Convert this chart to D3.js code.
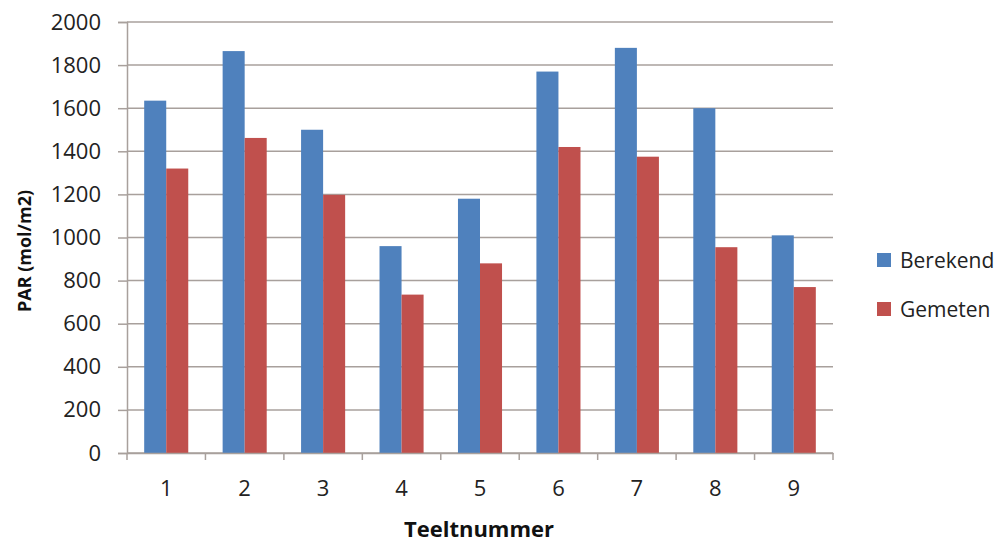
<!DOCTYPE html>
<html>
<head>
<meta charset="utf-8">
<script src="https://cdn.jsdelivr.net/npm/d3@7"></script>
<style>
  body { margin: 0; background: #fff; }
  svg { display: block; }
</style>
</head>
<body>
<svg></svg>
<script>
var categories = ["1", "2", "3", "4", "5", "6", "7", "8", "9"];
var seriesNames = ["Berekend", "Gemeten"];
var berekend = [1635, 1865, 1500, 960, 1180, 1770, 1880, 1600, 1010];
var gemeten = [1320, 1462, 1198, 735, 880, 1420, 1375, 955, 770];
var yTicks = [0, 200, 400, 600, 800, 1000, 1200, 1400, 1600, 1800, 2000];

var color = d3.scaleOrdinal().domain(seriesNames).range(["#4f81bd", "#c0504d"]);

var data = categories.map(function(c, i) {
    return { cat: c, values: [
        { name: "Berekend", value: berekend[i] },
        { name: "Gemeten", value: gemeten[i] }
    ] };
});

const svgWidth = 1005,
    svgHeight = 543;

var margin = { top: 22, right: 172, bottom: 90, left: 127 };
var width = svgWidth - margin.left - margin.right;
var height = svgHeight - margin.top - margin.bottom;

var font = "'Open Sans', 'DejaVu Sans', sans-serif";
var gridColor = "#a8a09c";

var svg = d3.select("svg")
    .attr("width", svgWidth)
    .attr("height", svgHeight);

var g = svg.append("g")
    .attr("transform", "translate(" + margin.left + "," + margin.top + ")");

var x = d3.scaleBand()
    .domain(categories)
    .range([0, width])
    .padding(0);

var x1 = d3.scaleBand()
    .domain(seriesNames)
    .range([0, x.bandwidth()])
    .paddingInner(0)
    .paddingOuter(0.78);

var y = d3.scaleLinear()
    .domain([0, 2000])
    .range([height, 0]);

// gridlines
g.append("g")
    .selectAll("line")
    .data(yTicks)
    .enter()
    .append("line")
    .attr("x1", 0)
    .attr("x2", width)
    .attr("y1", d => y(d))
    .attr("y2", d => y(d))
    .attr("stroke", gridColor)
    .attr("stroke-width", 1.5);

// bars
var groups = g.selectAll(".grp")
    .data(data)
    .enter()
    .append("g")
    .attr("class", "grp")
    .attr("transform", d => "translate(" + x(d.cat) + ",0)");

groups.selectAll("rect")
    .data(d => d.values)
    .enter()
    .append("rect")
    .attr("x", d => x1(d.name))
    .attr("width", x1.bandwidth())
    .attr("y", d => y(d.value))
    .attr("height", d => height - y(d.value))
    .style("fill", d => color(d.name));

// y axis
var yAxis = d3.axisLeft(y)
    .tickValues(yTicks)
    .tickFormat(d3.format("d"))
    .tickSize(9)
    .tickPadding(17);

g.append("g")
    .call(yAxis);

// x axis: ticks at category boundaries
var xAxis = d3.axisBottom(x)
    .tickSize(0)
    .tickPadding(27);

var xg = g.append("g")
    .attr("transform", "translate(0," + height + ")")
    .call(xAxis);

xg.selectAll(".bound")
    .data(d3.range(categories.length + 1))
    .enter()
    .append("line")
    .attr("class", "bound")
    .attr("x1", d => d * x.step())
    .attr("x2", d => d * x.step())
    .attr("y1", 0)
    .attr("y2", 7)
    .attr("stroke", gridColor)
    .attr("stroke-width", 1.5);

g.selectAll(".tick line")
    .attr("stroke", gridColor)
    .attr("stroke-width", 1.5);

g.selectAll(".domain")
    .attr("stroke", gridColor)
    .attr("stroke-width", 1.5);

g.selectAll(".tick text")
    .attr("font-size", 22)
    .attr("font-family", font)
    .attr("fill", "#222");

// axis titles
svg.append("text")
    .attr("x", 479)
    .attr("y", 537)
    .attr("text-anchor", "middle")
    .attr("font-family", font)
    .attr("font-weight", "bold")
    .attr("font-size", 22)
    .attr("fill", "#111")
    .text("Teeltnummer");

svg.append("text")
    .attr("transform", "translate(31,251) rotate(-90)")
    .attr("text-anchor", "middle")
    .attr("font-family", font)
    .attr("font-weight", "bold")
    .attr("font-size", 18)
    .attr("fill", "#111")
    .text("PAR (mol/m2)");

// legend
var legend = svg.append("g")
    .attr("transform", "translate(877,253)");

var items = legend.selectAll("g")
    .data(seriesNames)
    .enter()
    .append("g")
    .attr("transform", (d, i) => "translate(0," + (i * 49) + ")");

items.append("rect")
    .attr("width", 14)
    .attr("height", 14)
    .style("fill", d => color(d));

items.append("text")
    .attr("x", 23)
    .attr("y", 15)
    .attr("font-family", font)
    .attr("font-size", 21)
    .attr("fill", "#222")
    .text(d => d);
</script>
</body>
</html>
